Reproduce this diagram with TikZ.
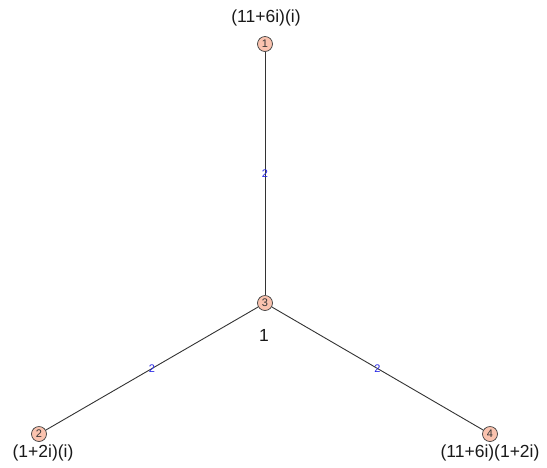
\documentclass[tikz,border=0pt]{standalone}
\usepackage{fontspec}
\setmainfont{Liberation Sans}
\definecolor{vfill}{RGB}{250,195,175}
\definecolor{elab}{RGB}{40,40,230}
\begin{document}
\begin{tikzpicture}[x=1pt,y=-1pt,
  vert/.style={circle,draw=black!75,fill=vfill,line width=0.7pt,minimum size=15pt,inner sep=0pt,font=\fontsize{11}{11}\selectfont,text=black!80},
  vlab/.style={font=\fontsize{17.5}{17.5}\selectfont,text=black!90},
  edge/.style={draw=black!80,line width=0.9pt},
  wlab/.style={font=\fontsize{11}{11}\selectfont,text=elab,inner sep=0pt}]
\useasboundingbox (0,0) rectangle (547,467);
\node[vert] (n1) at (265,44) {1};
\node[vert] (n3) at (265,303) {3};
\node[vert] (n2) at (39,434) {2};
\node[vert] (n4) at (490,434) {4};
\draw[edge] (n1) -- node[wlab] {2} (n3);
\draw[edge] (n3) -- node[wlab] {2} (n2);
\draw[edge] (n3) -- node[wlab] {2} (n4);
\node[vlab] (l1) at (266,18) {(11+6i)(i)};
\node[vlab] (l3) at (264,335) {1};
\node[vlab] (l2) at (43,453) {(1+2i)(i)};
\node[vlab] (l4) at (490,453) {(11+6i)(1+2i)};
\end{tikzpicture}
\end{document}
